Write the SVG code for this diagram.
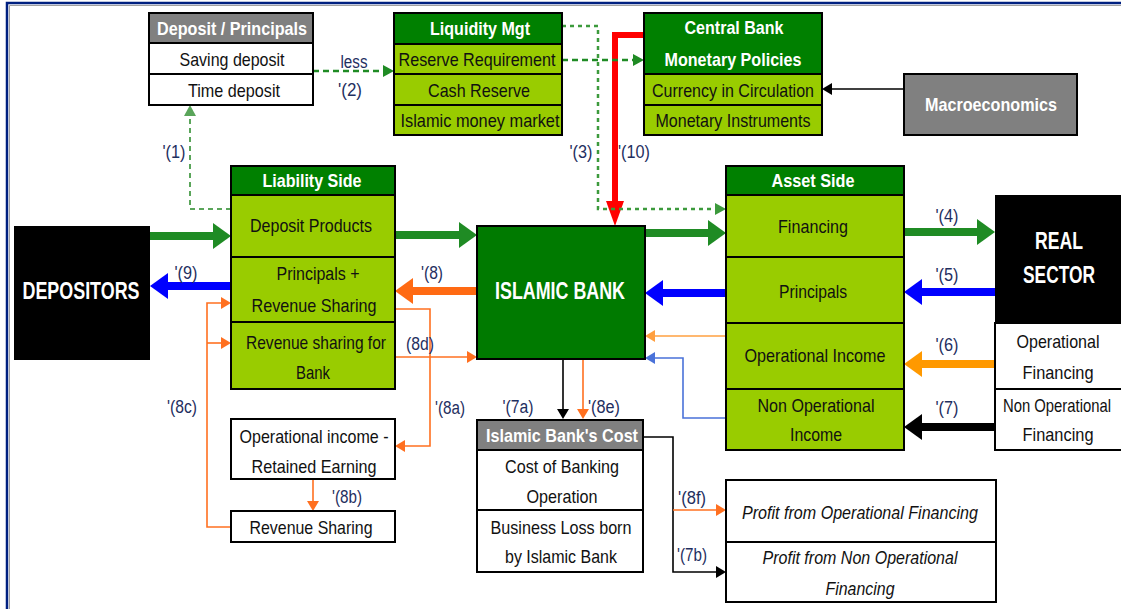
<svg xmlns="http://www.w3.org/2000/svg" width="1121" height="609" viewBox="0 0 1121 609">
<style>
.t{font-family:'Liberation Sans Narrow','Arial Narrow','Liberation Sans',sans-serif;font-size:19px;text-anchor:middle;dominant-baseline:central;fill:#111}
.h{font-weight:bold;fill:#fff}
.big{font-weight:bold;fill:#fff;font-size:23px}
.it{font-style:italic}
.lb{font-family:'Liberation Sans Narrow','Arial Narrow','Liberation Sans',sans-serif;font-size:18px;text-anchor:middle;dominant-baseline:central;fill:#1f2f5f}
.bx{stroke:#000;stroke-width:2}
.dg{fill:#008000}
.lg{fill:#99cc00}
.gr{fill:#808080}
.wh{fill:#fff}
.bk{fill:#000}
.th{fill:none;stroke-width:8}
.tn{fill:none;stroke-width:1.6}
</style>
<defs>
<marker id="aG" markerUnits="userSpaceOnUse" markerWidth="18" markerHeight="26" viewBox="0 0 18 26" refX="0" refY="13" orient="auto"><path d="M0,0 L18,13 L0,26 z" fill="#1f8b24"/></marker>
<marker id="aB" markerUnits="userSpaceOnUse" markerWidth="18" markerHeight="26" viewBox="0 0 18 26" refX="0" refY="13" orient="auto"><path d="M0,0 L18,13 L0,26 z" fill="#0000ff"/></marker>
<marker id="aO" markerUnits="userSpaceOnUse" markerWidth="18" markerHeight="26" viewBox="0 0 18 26" refX="0" refY="13" orient="auto"><path d="M0,0 L18,13 L0,26 z" fill="#ff6a13"/></marker>
<marker id="aA" markerUnits="userSpaceOnUse" markerWidth="18" markerHeight="26" viewBox="0 0 18 26" refX="0" refY="13" orient="auto"><path d="M0,0 L18,13 L0,26 z" fill="#ff9900"/></marker>
<marker id="aK" markerUnits="userSpaceOnUse" markerWidth="18" markerHeight="26" viewBox="0 0 18 26" refX="0" refY="13" orient="auto"><path d="M0,0 L18,13 L0,26 z" fill="#000"/></marker>
<marker id="aR" markerUnits="userSpaceOnUse" markerWidth="25" markerHeight="18" viewBox="0 0 25 18" refX="0" refY="9" orient="auto"><path d="M0,0 L25,9 L0,18 z" fill="#ff0000"/></marker>
<marker id="tO" markerUnits="userSpaceOnUse" markerWidth="10" markerHeight="12" viewBox="0 0 10 12" refX="0" refY="6" orient="auto"><path d="M0,0 L10,6 L0,12 z" fill="#ff7020"/></marker>
<marker id="tA" markerUnits="userSpaceOnUse" markerWidth="10" markerHeight="12" viewBox="0 0 10 12" refX="0" refY="6" orient="auto"><path d="M0,0 L10,6 L0,12 z" fill="#ffa040"/></marker>
<marker id="tB" markerUnits="userSpaceOnUse" markerWidth="10" markerHeight="12" viewBox="0 0 10 12" refX="0" refY="6" orient="auto"><path d="M0,0 L10,6 L0,12 z" fill="#4a72d9"/></marker>
<marker id="tK" markerUnits="userSpaceOnUse" markerWidth="10" markerHeight="12" viewBox="0 0 10 12" refX="0" refY="6" orient="auto"><path d="M0,0 L10,6 L0,12 z" fill="#000"/></marker>
<marker id="dG" markerUnits="userSpaceOnUse" markerWidth="11" markerHeight="12" viewBox="0 0 11 12" refX="0" refY="6" orient="auto"><path d="M0,0 L11,6 L0,12 z" fill="#1f8b24"/></marker>
<marker id="dL" markerUnits="userSpaceOnUse" markerWidth="11" markerHeight="12" viewBox="0 0 11 12" refX="0" refY="6" orient="auto"><path d="M0,0 L11,6 L0,12 z" fill="#3c9a3c"/></marker>
<marker id="dP" markerUnits="userSpaceOnUse" markerWidth="11" markerHeight="12" viewBox="0 0 11 12" refX="0" refY="6" orient="auto"><path d="M0,0 L11,6 L0,12 z" fill="#5aa55a"/></marker>
</defs>
<rect width="1121" height="609" fill="#fff"/>
<g id="frame">
<path d="M7,609 V3 H1121" fill="none" stroke="#002080" stroke-width="2.5"/>
<path d="M9.5,609 V5.5 H1121" fill="none" stroke="#a0a0a0" stroke-width="1"/>
</g>

<g id="connectors">
<path d="M150,236 H213" class="th" stroke="#1f8b24" marker-end="url(#aG)"/>
<path d="M395,235 H459" class="th" stroke="#1f8b24" marker-end="url(#aG)"/>
<path d="M645,233 H708" class="th" stroke="#1f8b24" marker-end="url(#aG)"/>
<path d="M904,232 H977" class="th" stroke="#1f8b24" marker-end="url(#aG)"/>
<path d="M231,286 H168" class="th" stroke="#0000ff" marker-end="url(#aB)"/>
<path d="M726,293 H663" class="th" stroke="#0000ff" marker-end="url(#aB)"/>
<path d="M995,292 H922" class="th" stroke="#0000ff" marker-end="url(#aB)"/>
<path d="M477,291 H413" class="th" stroke="#ff6a13" marker-end="url(#aO)"/>
<path d="M995,364 H922" class="th" stroke="#ff9900" marker-end="url(#aA)"/>
<path d="M995,427 H922" class="th" stroke="#000" marker-end="url(#aK)"/>
<path d="M644,35 H615 V201" fill="none" stroke="#ff0000" stroke-width="6" marker-end="url(#aR)"/>
<path d="M726,336 H655" class="tn" stroke="#ffa040" marker-end="url(#tA)"/>
<path d="M726,418 H683 V358 H655" class="tn" stroke="#4a72d9" marker-end="url(#tB)"/>
<path d="M395,357 H467" class="tn" stroke="#ff7020" marker-end="url(#tO)"/>
<path d="M395,309 H430 V446 H405" class="tn" stroke="#ff7020" marker-end="url(#tO)"/>
<path d="M313,479 V501" class="tn" stroke="#ff7020" marker-end="url(#tO)"/>
<path d="M231,527 H207 V303 H221" class="tn" stroke="#ff7020" marker-end="url(#tO)"/>
<path d="M207,343 H221" class="tn" stroke="#ff7020" marker-end="url(#tO)"/>
<path d="M563,359 V409" class="tn" stroke="#000" marker-end="url(#tK)"/>
<path d="M583,359 V409" class="tn" stroke="#ff7020" marker-end="url(#tO)"/>
<path d="M643,437 H673 V572 H716" class="tn" stroke="#000" marker-end="url(#tK)"/>
<path d="M673,510 H716" class="tn" stroke="#ff7020" marker-end="url(#tO)"/>
<path d="M313,71 H383" fill="none" stroke="#1f8b24" stroke-width="2.5" stroke-dasharray="6 4" marker-end="url(#dG)"/>
<path d="M562,60 H633" fill="none" stroke="#1f8b24" stroke-width="2.5" stroke-dasharray="6 4" marker-end="url(#dG)"/>
<path d="M562,26 H598 V209 H715" fill="none" stroke="#3c9a3c" stroke-width="2.5" stroke-dasharray="4 4" marker-end="url(#dL)"/>
<path d="M231,209 H190 V116" fill="none" stroke="#5aa55a" stroke-width="2" stroke-dasharray="5 4" marker-end="url(#dP)"/>
<path d="M904,89 H832" fill="none" stroke="#000" stroke-width="1.6" marker-end="url(#tK)"/>
</g>

<g id="labels">
<text class="lb" x="174" y="152" textLength="23" lengthAdjust="spacingAndGlyphs">'(1)</text>
<text class="lb" x="354" y="62" textLength="27" lengthAdjust="spacingAndGlyphs">less</text>
<text class="lb" x="350" y="90" textLength="24" lengthAdjust="spacingAndGlyphs">'(2)</text>
<text class="lb" x="581" y="152" textLength="23" lengthAdjust="spacingAndGlyphs">'(3)</text>
<text class="lb" x="634" y="152" textLength="32" lengthAdjust="spacingAndGlyphs">'(10)</text>
<text class="lb" x="186" y="273" textLength="23" lengthAdjust="spacingAndGlyphs">'(9)</text>
<text class="lb" x="432" y="273" textLength="22" lengthAdjust="spacingAndGlyphs">'(8)</text>
<text class="lb" x="420" y="344" font-size="16" textLength="28" lengthAdjust="spacingAndGlyphs">(8d)</text>
<text class="lb" x="450" y="408" textLength="30" lengthAdjust="spacingAndGlyphs">'(8a)</text>
<text class="lb" x="182" y="407" textLength="30" lengthAdjust="spacingAndGlyphs">'(8c)</text>
<text class="lb" x="347" y="497" textLength="30" lengthAdjust="spacingAndGlyphs">'(8b)</text>
<text class="lb" x="518" y="407" textLength="31" lengthAdjust="spacingAndGlyphs">'(7a)</text>
<text class="lb" x="604" y="407" textLength="32" lengthAdjust="spacingAndGlyphs">'(8e)</text>
<text class="lb" x="692" y="498" textLength="28" lengthAdjust="spacingAndGlyphs">'(8f)</text>
<text class="lb" x="692" y="555" textLength="30" lengthAdjust="spacingAndGlyphs">'(7b)</text>
<text class="lb" x="947" y="216" textLength="23" lengthAdjust="spacingAndGlyphs">'(4)</text>
<text class="lb" x="947" y="275" textLength="23" lengthAdjust="spacingAndGlyphs">'(5)</text>
<text class="lb" x="947" y="345" textLength="23" lengthAdjust="spacingAndGlyphs">'(6)</text>
<text class="lb" x="947" y="408" textLength="23" lengthAdjust="spacingAndGlyphs">'(7)</text>
</g>

<g id="deposit-principals">
<rect class="bx gr" x="149" y="13" width="164" height="30"/>
<rect class="bx wh" x="149" y="43" width="164" height="31"/>
<rect class="bx wh" x="149" y="74" width="164" height="31"/>
<text class="t h" x="232" y="28" textLength="150" lengthAdjust="spacingAndGlyphs">Deposit / Principals</text>
<text class="t" x="232" y="59" textLength="105" lengthAdjust="spacingAndGlyphs">Saving deposit</text>
<text class="t" x="234" y="90" textLength="92" lengthAdjust="spacingAndGlyphs">Time deposit</text>
</g>

<g id="liquidity-mgt">
<rect class="bx dg" x="394" y="13" width="168" height="31"/>
<rect class="bx lg" x="394" y="44" width="168" height="30"/>
<rect class="bx lg" x="394" y="74" width="168" height="31"/>
<rect class="bx lg" x="394" y="105" width="168" height="30"/>
<text class="t h" x="480" y="28" textLength="100" lengthAdjust="spacingAndGlyphs">Liquidity Mgt</text>
<text class="t" x="477" y="59" textLength="157" lengthAdjust="spacingAndGlyphs">Reserve Requirement</text>
<text class="t" x="479" y="90" textLength="102" lengthAdjust="spacingAndGlyphs">Cash Reserve</text>
<text class="t" x="480" y="120" textLength="159" lengthAdjust="spacingAndGlyphs">Islamic money market</text>
</g>

<g id="central-bank">
<rect class="bx dg" x="644" y="13" width="178" height="61"/>
<rect class="bx lg" x="644" y="74" width="178" height="31"/>
<rect class="bx lg" x="644" y="105" width="178" height="30"/>
<text class="t h" x="734" y="27" textLength="99" lengthAdjust="spacingAndGlyphs">Central Bank</text>
<text class="t h" x="733" y="59" textLength="137" lengthAdjust="spacingAndGlyphs">Monetary Policies</text>
<text class="t" x="733" y="90" textLength="162" lengthAdjust="spacingAndGlyphs">Currency in Circulation</text>
<text class="t" x="733" y="120" textLength="155" lengthAdjust="spacingAndGlyphs">Monetary Instruments</text>
</g>

<g id="macroeconomics">
<rect class="bx gr" x="904" y="74" width="173" height="61"/>
<text class="t h" x="991" y="104" textLength="132" lengthAdjust="spacingAndGlyphs">Macroeconomics</text>
</g>

<g id="liability-side">
<rect class="bx dg" x="231" y="166" width="164" height="29"/>
<rect class="bx lg" x="231" y="195" width="164" height="62"/>
<rect class="bx lg" x="231" y="257" width="164" height="65"/>
<rect class="bx lg" x="231" y="322" width="164" height="67"/>
<text class="t h" x="312" y="180" textLength="99" lengthAdjust="spacingAndGlyphs">Liability Side</text>
<text class="t" x="311" y="225" textLength="122" lengthAdjust="spacingAndGlyphs">Deposit Products</text>
<text class="t" x="318" y="273" textLength="83" lengthAdjust="spacingAndGlyphs">Principals +</text>
<text class="t" x="314" y="305" textLength="125" lengthAdjust="spacingAndGlyphs">Revenue Sharing</text>
<text class="t" x="316" y="342" font-size="17" textLength="140" lengthAdjust="spacingAndGlyphs">Revenue sharing for</text>
<text class="t" x="313" y="372" textLength="34" lengthAdjust="spacingAndGlyphs">Bank</text>
</g>

<g id="depositors">
<rect class="bk" x="14" y="226" width="136" height="134"/>
<text class="t big" x="81" y="291" textLength="117" lengthAdjust="spacingAndGlyphs">DEPOSITORS</text>
</g>

<g id="islamic-bank">
<rect class="bx" fill="#007a00" x="477" y="226" width="168" height="133"/>
<text class="t big" x="560" y="291" textLength="130" lengthAdjust="spacingAndGlyphs">ISLAMIC BANK</text>
</g>

<g id="asset-side">
<rect class="bx dg" x="726" y="166" width="178" height="29"/>
<rect class="bx lg" x="726" y="195" width="178" height="62"/>
<rect class="bx lg" x="726" y="257" width="178" height="66"/>
<rect class="bx lg" x="726" y="323" width="178" height="66"/>
<rect class="bx lg" x="726" y="389" width="178" height="61"/>
<text class="t h" x="813" y="180" textLength="83" lengthAdjust="spacingAndGlyphs">Asset Side</text>
<text class="t" x="813" y="226" textLength="70" lengthAdjust="spacingAndGlyphs">Financing</text>
<text class="t" x="813" y="291" textLength="68" lengthAdjust="spacingAndGlyphs">Principals</text>
<text class="t" x="815" y="355" textLength="141" lengthAdjust="spacingAndGlyphs">Operational Income</text>
<text class="t" x="816" y="405" textLength="117" lengthAdjust="spacingAndGlyphs">Non Operational</text>
<text class="t" x="816" y="434" textLength="52" lengthAdjust="spacingAndGlyphs">Income</text>
</g>

<g id="real-sector">
<rect class="bk" x="995" y="195" width="126" height="128"/>
<rect class="bx wh" x="995" y="323" width="128" height="66"/>
<rect class="bx wh" x="995" y="389" width="128" height="61"/>
<text class="t big" x="1059" y="241" font-size="25" textLength="48" lengthAdjust="spacingAndGlyphs">REAL</text>
<text class="t big" x="1059" y="275" font-size="25" textLength="72" lengthAdjust="spacingAndGlyphs">SECTOR</text>
<text class="t" x="1058" y="341" textLength="83" lengthAdjust="spacingAndGlyphs">Operational</text>
<text class="t" x="1058" y="372" textLength="71" lengthAdjust="spacingAndGlyphs">Financing</text>
<text class="t" x="1057" y="405" font-size="16" textLength="108" lengthAdjust="spacingAndGlyphs">Non Operational</text>
<text class="t" x="1058" y="434" textLength="71" lengthAdjust="spacingAndGlyphs">Financing</text>
</g>

<g id="retained-earning">
<rect class="bx wh" x="231" y="419" width="164" height="60"/>
<text class="t" x="314" y="436" textLength="149" lengthAdjust="spacingAndGlyphs">Operational income -</text>
<text class="t" x="314" y="466" textLength="125" lengthAdjust="spacingAndGlyphs">Retained Earning</text>
</g>

<g id="revenue-sharing">
<rect class="bx wh" x="231" y="511" width="164" height="31"/>
<text class="t" x="311" y="527" textLength="123" lengthAdjust="spacingAndGlyphs">Revenue Sharing</text>
</g>

<g id="bank-cost">
<rect class="bx gr" x="477" y="420" width="166" height="30"/>
<rect class="bx wh" x="477" y="450" width="166" height="60"/>
<rect class="bx wh" x="477" y="510" width="166" height="62"/>
<text class="t h" x="562" y="435" textLength="152" lengthAdjust="spacingAndGlyphs">Islamic Bank's Cost</text>
<text class="t" x="562" y="466" textLength="114" lengthAdjust="spacingAndGlyphs">Cost of Banking</text>
<text class="t" x="562" y="496" textLength="71" lengthAdjust="spacingAndGlyphs">Operation</text>
<text class="t" x="561" y="527" textLength="141" lengthAdjust="spacingAndGlyphs">Business Loss born</text>
<text class="t" x="561" y="556" textLength="112" lengthAdjust="spacingAndGlyphs">by Islamic Bank</text>
</g>

<g id="profit">
<rect class="bx wh" x="726" y="480" width="270" height="62"/>
<rect class="bx wh" x="726" y="542" width="270" height="60"/>
<text class="t it" x="860" y="512" textLength="236" lengthAdjust="spacingAndGlyphs">Profit from Operational Financing</text>
<text class="t it" x="860" y="557" textLength="195" lengthAdjust="spacingAndGlyphs">Profit from Non Operational</text>
<text class="t it" x="860" y="588" textLength="69" lengthAdjust="spacingAndGlyphs">Financing</text>
</g>
</svg>
